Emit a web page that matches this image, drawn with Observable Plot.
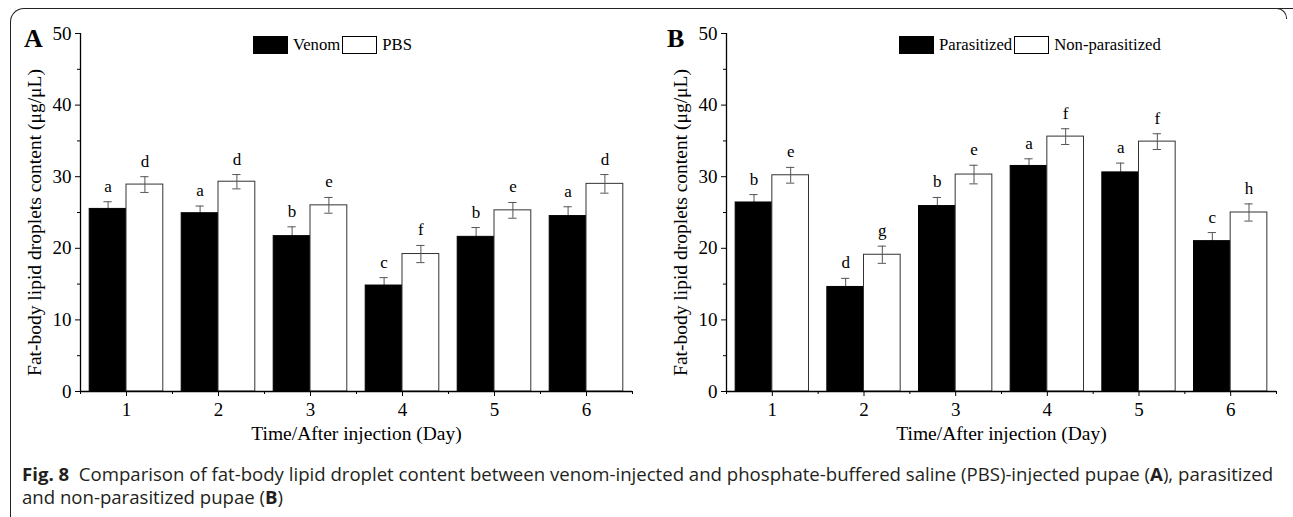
<!DOCTYPE html>
<html>
<head>
<meta charset="utf-8">
<script src="https://cdn.jsdelivr.net/npm/d3@7"></script>
<script src="https://cdn.jsdelivr.net/npm/@observablehq/plot@0.6"></script>
<style>
  html, body { margin: 0; padding: 0; background: #fff; }
  #root { position: relative; width: 1293px; height: 517px; overflow: hidden; font-family: "Liberation Serif", "Times New Roman", serif; color: #000; }
  .abs { position: absolute; }
  .panel-letter { font-weight: bold; font-size: 26px; line-height: 1; }
  .legend { display: flex; align-items: center; font-size: 16.7px; }
  .sw { width: 35px; height: 18px; box-sizing: border-box; border: 1px solid #000; margin-right: 5px; }
  .caption { font-family: "Open Sans", "Noto Sans", sans-serif; font-size: 18.6px; line-height: 23px; white-space: nowrap; color: #231f20; }
  .border-main { left: 10px; top: 8px; width: 1300px; height: 520px; border-top: 1.5px solid #222; border-left: 1.5px solid #222; border-top-left-radius: 14px; }
  .border-corner { left: 1272px; top: 8px; width: 14px; height: 10px; border-top: 1.5px solid #222; border-right: 1.5px solid #222; border-top-right-radius: 10px; }
</style>
</head>
<body>
<div id="root">
  <div class="abs border-main"></div>
  <div class="abs border-corner"></div>
  <div id="plotA" class="abs" style="left:0;top:0"></div>
  <div id="plotB" class="abs" style="left:646px;top:0"></div>
  <div class="abs panel-letter" style="left:24px;top:26px">A</div>
  <div class="abs panel-letter" style="left:667px;top:26px">B</div>
  <div id="legendA" class="abs legend" style="left:253px;top:35px"></div>
  <div id="legendB" class="abs legend" style="left:899px;top:35px"></div>
  <div class="abs caption" style="left:22px;top:462px"><b>Fig. 8</b>&nbsp; Comparison of fat-body lipid droplet content between venom-injected and phosphate-buffered saline (PBS)-injected pupae (<b>A</b>), parasitized<br>and non-parasitized pupae (<b>B</b>)</div>
</div>
<script>
// ---- Data ----
const days = [1, 2, 3, 4, 5, 6];
const yTicks = [0, 10, 20, 30, 40, 50];
const yMinorTicks = [5, 15, 25, 35, 45];
const xMinorTicks = [0.5, 1.5, 2.5, 3.5, 4.5, 5.5, 6.5];

// Panel A
const seriesA = ["Venom", "PBS"];
const venomMean = [25.5, 24.9, 21.7, 14.8, 21.6, 24.5];
const venomErr = [1.0, 1.0, 1.3, 1.1, 1.3, 1.3];
const venomLetters = ["a", "a", "b", "c", "b", "a"];
const pbsMean = [28.9, 29.3, 26.0, 19.2, 25.3, 29.0];
const pbsErr = [1.1, 1.0, 1.1, 1.2, 1.1, 1.3];
const pbsLetters = ["d", "d", "e", "f", "e", "d"];

// Panel B
const seriesB = ["Parasitized", "Non-parasitized"];
const paraMean = [26.4, 14.6, 25.9, 31.5, 30.6, 21.0];
const paraErr = [1.1, 1.2, 1.2, 1.0, 1.3, 1.2];
const paraLetters = ["b", "d", "b", "a", "a", "c"];
const nonMean = [30.2, 19.1, 30.3, 35.6, 34.9, 25.0];
const nonErr = [1.1, 1.2, 1.3, 1.1, 1.1, 1.2];
const nonLetters = ["e", "g", "e", "f", "f", "h"];

const yLabel = "Fat-body lipid droplets content (\u03bcg/\u03bcL)";
const xLabel = "Time/After injection (Day)";

// ---- Drawing ----
const BAR = 0.4;   // bar width in day units
const CAP = 0.045; // error cap half width in day units

function rows(means, errs, letters, side) {
  return days.map((d, i) => ({
    day: d, value: means[i], err: errs[i], letter: letters[i],
    x1: side === 0 ? d - BAR : d,
    x2: side === 0 ? d : d + BAR,
    xc: side === 0 ? d - BAR / 2 : d + BAR / 2
  }));
}

function errMarks(data, color) {
  return [
    Plot.ruleX(data, {x: "xc", y1: d => d.value - d.err, y2: d => d.value + d.err, stroke: color, strokeWidth: 1}),
    Plot.ruleY(data, {y: d => d.value + d.err, x1: d => d.xc - CAP, x2: d => d.xc + CAP, stroke: color, strokeWidth: 1}),
    Plot.ruleY(data, {y: d => d.value - d.err, x1: d => d.xc - CAP, x2: d => d.xc + CAP, stroke: color, strokeWidth: 1})
  ];
}

function panel(dark, light, width, marginRight) {
  return Plot.plot({
    width: width,
    height: 450,
    marginLeft: 80,
    marginRight: marginRight,
    marginTop: 33,
    marginBottom: 59,
    style: {fontFamily: "'Liberation Serif', 'Times New Roman', serif", fontSize: "19px", color: "#000", background: "transparent", overflow: "visible"},
    x: {domain: [0.5, 6.5], axis: null},
    y: {domain: [0, 50], axis: null},
    marks: [
      // error bars behind dark bars (only the upper part shows)
      ...errMarks(dark, "#555"),
      Plot.rectY(dark, {x1: "x1", x2: "x2", y: "value", fill: "#000", stroke: "#000", strokeWidth: 1}),
      Plot.rectY(light, {x1: "x1", x2: "x2", y: "value", fill: "#fff", stroke: "#333", strokeWidth: 1}),
      ...errMarks(light, "#555"),
      Plot.text(dark, {x: "xc", y: d => d.value + d.err, text: "letter", lineAnchor: "bottom", dy: -10, fontSize: 17}),
      Plot.text(light, {x: "xc", y: d => d.value + d.err, text: "letter", lineAnchor: "bottom", dy: -10, fontSize: 17}),
      // axes
      Plot.ruleX([0.5], {stroke: "#000", strokeWidth: 1.3}),
      Plot.ruleY([0], {stroke: "#000", strokeWidth: 1.3}),
      Plot.axisY({ticks: yTicks, tickSize: 5, tickPadding: 4, label: null, fontSize: 19}),
      Plot.axisY({ticks: yMinorTicks, tickSize: 3, tickFormat: () => "", label: null}),
      Plot.axisX({ticks: days, tickSize: 5, tickPadding: 6, label: null, tickFormat: d => String(d), fontSize: 19}),
      Plot.axisX({ticks: xMinorTicks, tickSize: 3, tickFormat: () => "", label: null}),
      Plot.text([yLabel], {text: d => d, frameAnchor: "left", textAnchor: "middle", dx: -46, dy: 10, rotate: -90, fontSize: 19.5}),
      Plot.text([xLabel], {text: d => d, frameAnchor: "bottom", textAnchor: "middle", dy: 48, fontSize: 19.5})
    ]
  });
}

document.getElementById("plotA").append(panel(
  rows(venomMean, venomErr, venomLetters, 0),
  rows(pbsMean, pbsErr, pbsLetters, 1),
  645, 13));
document.getElementById("plotB").append(panel(
  rows(paraMean, paraErr, paraLetters, 0),
  rows(nonMean, nonErr, nonLetters, 1),
  647, 17));

function legend(el, names) {
  const root = document.getElementById(el);
  names.forEach((n, i) => {
    const sw = document.createElement("div");
    sw.className = "sw";
    sw.style.background = i === 0 ? "#000" : "#fff";
    const t = document.createElement("span");
    t.textContent = n;
    t.style.marginRight = "2px";
    root.append(sw, t);
  });
}
legend("legendA", seriesA);
legend("legendB", seriesB);
</script>
</body>
</html>
